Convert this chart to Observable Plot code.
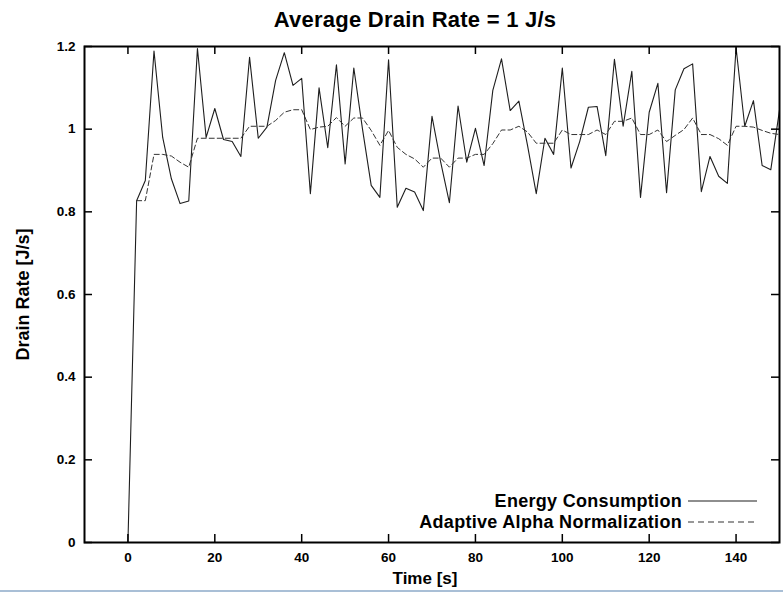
<!DOCTYPE html>
<html><head><meta charset="utf-8">
<script src="https://cdn.jsdelivr.net/npm/d3@7"></script>
<script src="https://cdn.jsdelivr.net/npm/@observablehq/plot@0.6"></script>
<style>
body{margin:0;background:#fff;font-family:"Liberation Sans",Arial,sans-serif;}
#wrap{position:relative;width:783px;height:594px;overflow:hidden;background:#fff;}
#title{height:34px;line-height:39px;font-size:22px;font-weight:bold;text-align:center;padding-left:47px;box-sizing:border-box;width:783px;letter-spacing:0.25px;color:#000;white-space:nowrap;}
#legend{position:absolute;left:0;top:0;pointer-events:none;}
#edge{position:absolute;left:0;top:590px;width:783px;height:2px;background:#a9bfd6;}
</style></head><body>
<div id="wrap"><div id="title">Average Drain Rate = 1 J/s</div><div id="chart"></div><div id="edge"></div></div>
<script>
const time = [0,2,4,6,8,10,12,14,16,18,20,22,24,26,28,30,32,34,36,38,40,42,44,46,48,50,52,54,56,58,60,62,64,66,68,70,72,74,76,78,80,82,84,86,88,90,92,94,96,98,100,102,104,106,108,110,112,114,116,118,120,122,124,126,128,130,132,134,136,138,140,142,144,146,148,150];
const energy = [0,0.827,0.876,1.189,0.98,0.88,0.82,0.826,1.195,0.98,1.05,0.975,0.97,0.934,1.174,0.978,1.005,1.118,1.185,1.106,1.123,0.844,1.10,0.955,1.156,0.916,1.148,1.0,0.864,0.835,1.168,0.811,0.857,0.848,0.803,1.031,0.92,0.822,1.056,0.92,1.002,0.912,1.094,1.17,1.045,1.068,0.96,0.844,0.978,0.939,1.148,0.906,0.97,1.053,1.055,0.936,1.169,1.007,1.14,0.835,1.041,1.111,0.846,1.095,1.146,1.158,0.849,0.934,0.886,0.869,1.197,1.007,1.069,0.912,0.902,1.046];
const alpha = [null,0.827,0.827,0.939,0.939,0.935,0.92,0.908,0.978,0.978,0.978,0.978,0.978,0.978,1.007,1.007,1.007,1.021,1.041,1.047,1.047,0.999,1.005,1.007,1.028,1.007,1.027,1.027,0.997,0.961,0.997,0.956,0.939,0.928,0.908,0.93,0.93,0.908,0.93,0.93,0.939,0.939,0.965,0.998,0.998,1.007,0.993,0.966,0.966,0.966,0.998,0.987,0.987,0.987,0.998,0.987,1.019,1.019,1.027,0.987,0.987,0.998,0.97,0.985,0.999,1.027,0.987,0.987,0.977,0.961,1.007,1.007,1.005,0.997,0.99,0.987];
const xTicks = [0,20,40,60,80,100,120,140];
const yTicks = [0,0.2,0.4,0.6,0.8,1,1.2];
const seriesNames = ["Energy Consumption","Adaptive Alpha Normalization"];
const xLabel = "Time [s]";
const yLabel = "Drain Rate [J/s]";

const W = 783, H = 556, mL = 84, mR = 4, mT = 12, mB = 48;
const innerW = W - mL - mR, innerH = H - mT - mB;
const rows = time.map((t, i) => ({t, e: energy[i], a: alpha[i]}));
const font = '"Liberation Sans", Arial, sans-serif';

const chart = Plot.plot({
  width: W, height: H,
  marginLeft: mL, marginRight: mR, marginTop: mT, marginBottom: mB,
  x: {domain: [-10, 150]},
  y: {domain: [0, 1.2]},
  style: {fontFamily: font, fontSize: "13px", fontWeight: "bold", color: "#000", background: "#fff", display: "block", overflow: "visible"},
  marks: [
    Plot.line(rows, {x: "t", y: "e", stroke: "#1e1e1e", strokeWidth: 1.1, clip: true}),
    Plot.line(rows.filter(d => d.a != null), {x: "t", y: "a", stroke: "#333", strokeWidth: 1, strokeDasharray: "5,3", clip: true}),
    Plot.tickX(xTicks, {x: d => d, insetTop: innerH - 8, stroke: "#000", strokeWidth: 1.5}),
    Plot.tickX(xTicks, {x: d => d, insetBottom: innerH - 8, stroke: "#000", strokeWidth: 1.5}),
    Plot.tickY(yTicks, {y: d => d, insetRight: innerW - 8, stroke: "#000", strokeWidth: 1.5}),
    Plot.tickY(yTicks, {y: d => d, insetLeft: innerW - 8, stroke: "#000", strokeWidth: 1.5}),
    Plot.axisX({ticks: xTicks, tickSize: 0, tickPadding: 10, tickFormat: d => String(d), label: null, fontSize: 13.5, fontWeight: "bold"}),
    Plot.axisY({ticks: yTicks, tickSize: 0, tickPadding: 9, tickFormat: d => String(d), label: null, fontSize: 13.5, fontWeight: "bold"}),
    Plot.frame({stroke: "#000", strokeWidth: 2}),
    Plot.text([yLabel], {text: d => d, frameAnchor: "left", textAnchor: "middle", lineAnchor: "middle", rotate: -90, dx: -61, fontSize: 18, fontWeight: "bold"}),
    Plot.text([xLabel], {text: d => d, frameAnchor: "bottom", textAnchor: "middle", lineAnchor: "middle", dx: -7, dy: 36, fontSize: 17, fontWeight: "bold"})
  ]
});
document.getElementById("chart").appendChild(chart);

// legend inside the plot, bottom-right
const ns = "http://www.w3.org/2000/svg";
const lg = document.createElementNS(ns, "svg");
lg.setAttribute("id", "legend");
lg.setAttribute("width", 783); lg.setAttribute("height", 594);
const legendRows = [
  {name: seriesNames[0], base: 507, ly: 501, dash: null},
  {name: seriesNames[1], base: 528, ly: 522, dash: "6,4"}
];
for (const r of legendRows) {
  const t = document.createElementNS(ns, "text");
  t.setAttribute("x", 682); t.setAttribute("y", r.base);
  t.setAttribute("text-anchor", "end");
  t.setAttribute("font-family", font);
  t.setAttribute("font-size", 18); t.setAttribute("font-weight", "bold");
  t.setAttribute("letter-spacing", "0.3");
  t.textContent = r.name;
  lg.appendChild(t);
  const l = document.createElementNS(ns, "line");
  l.setAttribute("x1", 688); l.setAttribute("x2", 757);
  l.setAttribute("y1", r.ly); l.setAttribute("y2", r.ly);
  l.setAttribute("stroke", r.dash ? "#333" : "#1e1e1e");
  l.setAttribute("stroke-width", 1.1);
  if (r.dash) l.setAttribute("stroke-dasharray", r.dash);
  lg.appendChild(l);
}
document.getElementById("wrap").appendChild(lg);
</script>
</body></html>
